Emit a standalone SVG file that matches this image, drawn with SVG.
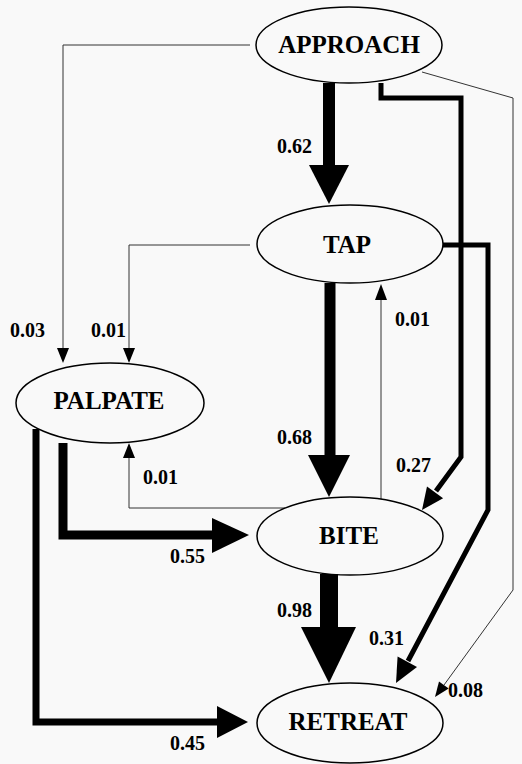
<svg xmlns="http://www.w3.org/2000/svg" width="522" height="764" viewBox="0 0 522 764">
<style>
.node ellipse{fill:none;stroke:#000;stroke-width:1.5}
.node text{font-family:"Liberation Serif","Times New Roman",serif;font-weight:bold;font-size:25px;text-anchor:middle;fill:#000}
.lbl{font-family:"Liberation Serif","Times New Roman",serif;font-weight:bold;font-size:20px;fill:#000}
.thin{fill:none;stroke:#333;stroke-width:1}
.thick{fill:none;stroke:#000;stroke-linejoin:miter}
.head{fill:#000;stroke:none}
</style>
<rect width="522" height="764" fill="#f9f9f9"/>
<g id="connectors">
  <!-- APPROACH -> TAP 0.62 -->
  <line class="thick" x1="329" y1="83" x2="329" y2="167" stroke-width="12"/>
  <polygon class="head" points="309,165 349,165 329,204"/>
  <!-- TAP -> BITE 0.68 -->
  <line class="thick" x1="330" y1="283" x2="330" y2="457" stroke-width="11"/>
  <polygon class="head" points="308,455 350,455 329,497"/>
  <!-- BITE -> RETREAT 0.98 -->
  <line class="thick" x1="329" y1="574" x2="329" y2="629" stroke-width="18"/>
  <polygon class="head" points="301,627 356,627 329,683"/>
  <!-- PALPATE -> BITE 0.55 -->
  <path class="thick" d="M63,443 V535 H214" stroke-width="9"/>
  <polygon class="head" points="212,518 212,553 249,535"/>
  <!-- PALPATE -> RETREAT 0.45 -->
  <path class="thick" d="M36,429 V722 H219" stroke-width="7"/>
  <polygon class="head" points="217,706 217,738 248,722"/>
  <!-- APPROACH -> PALPATE 0.03 -->
  <path class="thin" d="M250,45 H63 V349"/>
  <polygon class="head" points="57,348 69,348 63,363"/>
  <!-- TAP -> PALPATE 0.01 -->
  <path class="thin" d="M250,245 H129 V349"/>
  <polygon class="head" points="123,348 135,348 129,363"/>
  <!-- BITE -> PALPATE 0.01 -->
  <path class="thin" d="M285,508 H129 V457"/>
  <polygon class="head" points="123,458 135,458 129,443"/>
  <!-- BITE -> TAP 0.01 -->
  <line class="thin" x1="381" y1="499" x2="381" y2="299"/>
  <polygon class="head" points="375,300 387,300 381,284"/>
  <!-- APPROACH -> BITE 0.27 -->
  <path class="thick" d="M381,83 V98 H461 V457 L436,491" stroke-width="5"/>
  <polygon class="head" points="443.1,498.2 427,486.4 422,510"/>
  <!-- TAP -> RETREAT 0.31 -->
  <path class="thick" d="M443,245 H488 V510 L408,661" stroke-width="5"/>
  <polygon class="head" points="417,667 397.6,656.6 396,683"/>
  <!-- APPROACH -> RETREAT 0.08 -->
  <path class="thin" d="M422,72 L513,98 V590 L444,685"/>
  <polygon class="head" points="448.7,688.4 439,681.4 435,697"/>
</g>
<g id="labels">
  <text class="lbl" x="277" y="153">0.62</text>
  <text class="lbl" x="10" y="337">0.03</text>
  <text class="lbl" x="91" y="337">0.01</text>
  <text class="lbl" x="395" y="326">0.01</text>
  <text class="lbl" x="277" y="444">0.68</text>
  <text class="lbl" x="396" y="472">0.27</text>
  <text class="lbl" x="143" y="484">0.01</text>
  <text class="lbl" x="170" y="563">0.55</text>
  <text class="lbl" x="277" y="617">0.98</text>
  <text class="lbl" x="369" y="645">0.31</text>
  <text class="lbl" x="448" y="697">0.08</text>
  <text class="lbl" x="170" y="750">0.45</text>
</g>
<g id="approach" class="node"><ellipse cx="349" cy="45" rx="93" ry="38"/><text x="349" y="53">APPROACH</text></g>
<g id="tap" class="node"><ellipse cx="350" cy="244" rx="93" ry="39"/><text x="347" y="253">TAP</text></g>
<g id="palpate" class="node"><ellipse cx="110" cy="403" rx="94" ry="40"/><text x="109" y="409">PALPATE</text></g>
<g id="bite" class="node"><ellipse cx="350" cy="536" rx="93" ry="39"/><text x="349" y="544">BITE</text></g>
<g id="retreat" class="node"><ellipse cx="350" cy="723" rx="93" ry="40"/><text x="348" y="730">RETREAT</text></g>
</svg>
